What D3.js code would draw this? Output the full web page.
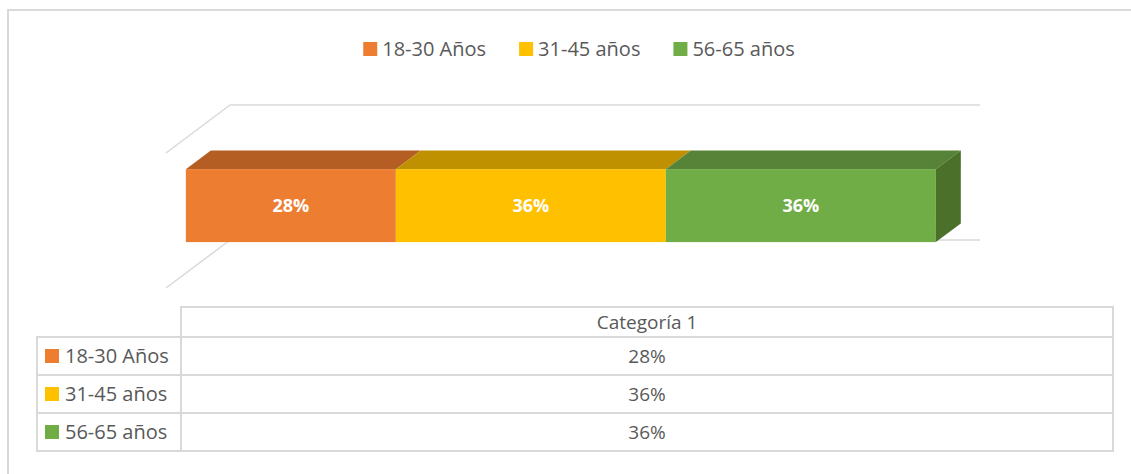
<!DOCTYPE html>
<html lang="es">
<head>
<meta charset="UTF-8">
<title>Edades</title>
<script src="https://unpkg.com/d3@7.8.5/dist/d3.min.js"></script>
<style>
  body { margin: 0; background: #fff; }
  text { font-family: "Open Sans", "Noto Sans", sans-serif; }
</style>
</head>
<body>
<svg width="1131" height="474"></svg>
<script>
// datos
var categories = ['Categoría 1']
var series = ['18-30 Años', '31-45 años', '56-65 años']
var values = [0.28, 0.36, 0.36]
var colors = ['#ED7D31', '#FFC000', '#70AD47']
var topColors = ['#B55E23', '#BF9000', '#578338']
var sideColors = ['#B25C22', '#BF9000', '#4A7029']

var svg = d3.select('svg')
var grid = '#d9d9d9'
var textColor = '#595959'

// marco
svg.append('rect')
  .attr('x', 8).attr('y', 10)
  .attr('width', 1200).attr('height', 600)
  .attr('fill', 'none').attr('stroke', grid).attr('stroke-width', 2)

// escalas: pared del fondo y profundidad
var x = d3.scaleLinear().domain([0, 1]).range([230, 980])
var y = d3.scaleBand().domain(categories).range([105, 240]).paddingInner(0).paddingOuter(0.425)
var depth = { dx: -64, dy: 48 }
function P(v, yy, z) { return [x(v) + depth.dx * z, yy + depth.dy * z] }

// lineas de la pared / suelo
var wall = svg.append('g')
  .attr('stroke', grid).attr('stroke-width', 1.5).attr('fill', 'none')
;[105, 240].forEach(function (yy) {
  wall.append('line')
    .attr('x1', x(0)).attr('y1', yy).attr('x2', x(1)).attr('y2', yy)
  var a = P(0, yy, 0), b = P(0, yy, 1)
  wall.append('line')
    .attr('x1', a[0]).attr('y1', a[1]).attr('x2', b[0]).attr('y2', b[1])
})

// datos apilados
var stacked = []
var acc = 0
values.forEach(function (v, i) {
  stacked.push({ name: series[i], v0: acc, v1: acc + v, value: v, i: i })
  acc += v
})

var zBack = 0.30, zFront = 0.69
var bars = svg.append('g')
var line = d3.line()
categories.forEach(function (c) {
  var y0 = y(c), y1 = y(c) + y.bandwidth()
  stacked.forEach(function (d) {
    // cara superior
    bars.append('path')
      .attr('d', line([P(d.v0, y0, zBack), P(d.v1, y0, zBack), P(d.v1, y0, zFront), P(d.v0, y0, zFront)]) + 'Z')
      .attr('fill', topColors[d.i])
    // cara frontal
    var f0 = P(d.v0, y0, zFront), f1 = P(d.v1, y1, zFront)
    bars.append('rect')
      .attr('x', f0[0]).attr('y', f0[1])
      .attr('width', f1[0] - f0[0]).attr('height', f1[1] - f0[1])
      .attr('fill', colors[d.i])
    bars.append('text')
      .attr('x', (f0[0] + f1[0]) / 2).attr('y', (f0[1] + f1[1]) / 2)
      .attr('dy', '0.36em')
      .attr('text-anchor', 'middle')
      .attr('fill', '#fff').attr('font-weight', 'bold').attr('font-size', 18)
      .text(Math.round(d.value * 100) + '%')
  })
  // cara lateral derecha
  var last = stacked[stacked.length - 1]
  bars.append('path')
    .attr('d', line([P(1, y0, zBack), P(1, y1, zBack), P(1, y1, zFront), P(1, y0, zFront)]) + 'Z')
    .attr('fill', sideColors[last.i])
})

// leyenda superior
var legend = svg.append('g')
var lx = 0
var gap = 33
var items = legend.selectAll('g').data(series).enter().append('g')
items.append('rect').attr('width', 14).attr('height', 14).attr('y', -14)
  .attr('fill', function (d, i) { return colors[i] })
items.append('text').attr('x', 19).attr('y', 0)
  .attr('font-size', 20).attr('fill', textColor)
  .text(function (d) { return d })
items.each(function () {
  var g = d3.select(this)
  g.attr('transform', 'translate(' + lx + ',0)')
  lx += 19 + g.select('text').node().getComputedTextLength() + gap
})
lx -= gap
legend.attr('transform', 'translate(' + (579 - lx / 2) + ',56)')

// tabla de datos
var colX = 37, colMid = 181, colEnd = 1113
var headTop = 307, rowTop = 337, rowH = 38
var table = svg.append('g')
var tl = table.append('g').attr('stroke', grid).attr('stroke-width', 2).attr('fill', 'none')
tl.append('rect').attr('x', colMid).attr('y', headTop).attr('width', colEnd - colMid).attr('height', rowTop - headTop)
series.forEach(function (s, i) {
  var top = rowTop + i * rowH
  tl.append('rect').attr('x', colX).attr('y', top).attr('width', colMid - colX).attr('height', rowH)
  tl.append('rect').attr('x', colMid).attr('y', top).attr('width', colEnd - colMid).attr('height', rowH)
})
table.append('text')
  .attr('x', (colMid + colEnd) / 2).attr('y', (headTop + rowTop) / 2).attr('dy', '0.36em')
  .attr('text-anchor', 'middle').attr('font-size', 19).attr('fill', textColor)
  .text(categories[0])
series.forEach(function (s, i) {
  var cy = rowTop + i * rowH + rowH / 2
  table.append('rect').attr('x', 45).attr('y', cy - 7).attr('width', 14).attr('height', 14).attr('fill', colors[i])
  table.append('text').attr('x', 65).attr('y', cy).attr('dy', '0.36em')
    .attr('font-size', 20).attr('fill', textColor).text(s)
  table.append('text').attr('x', (colMid + colEnd) / 2).attr('y', cy).attr('dy', '0.36em')
    .attr('text-anchor', 'middle').attr('font-size', 19).attr('fill', textColor)
    .text(Math.round(values[i] * 100) + '%')
})
</script>
</body>
</html>
